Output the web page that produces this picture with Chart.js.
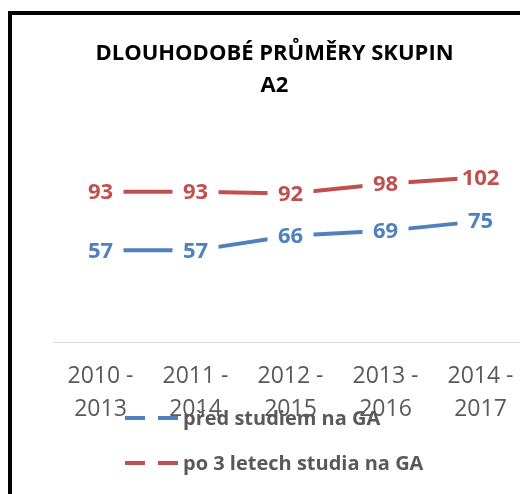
<!DOCTYPE html>
<html>
<head>
<meta charset="utf-8">
<script src="https://cdn.jsdelivr.net/npm/chart.js@4/dist/chart.umd.min.js"></script>
<style>
  html, body { margin: 0; padding: 0; background: #fff; overflow: hidden; width: 520px; height: 494px; }
  #frame {
    position: absolute; left: 8px; top: 11px;
    border-left: 4px solid #000; border-top: 4px solid #000;
    width: 540px; height: 500px;
  }
  #chart { position: absolute; left: 0; top: 0; }
</style>
</head>
<body>
<div id="frame"><canvas id="chart" width="524" height="479"></canvas></div>
<script>
// Data
const categories = [['2010 -', '2013'], ['2011 -', '2014'], ['2012 -', '2015'], ['2013 -', '2016'], ['2014 -', '2017']];
const seriesNames = ['před studiem na GA', 'po 3 letech studia na GA'];
const beforeValues = [57, 57, 66, 69, 75];
const afterValues = [93, 93, 92, 98, 102];

const BLUE = '#4F81BD';
const RED = '#C0504D';
const FONT = "'Open Sans', 'Noto Sans', sans-serif";

// data labels with a white box that cuts the line around each point
const valueLabels = {
    id: 'valueLabels',
    afterDatasetsDraw(chart) {
        const ctx = chart.ctx;
        ctx.save();
        ctx.font = 'bold 22px ' + FONT;
        ctx.textAlign = 'center';
        ctx.textBaseline = 'middle';
        chart.data.datasets.forEach((ds, i) => {
            const meta = chart.getDatasetMeta(i);
            meta.data.forEach((pt, j) => {
                ctx.fillStyle = '#fff';
                ctx.fillRect(pt.x - 23, pt.y - 12, 46, 24);
                ctx.fillStyle = ds.borderColor;
                ctx.fillText(String(ds.data[j]), pt.x, pt.y + 1);
            });
        });
        ctx.restore();
    }
};

// legend drawn over the bottom, like the original
const overlayLegend = {
    id: 'overlayLegend',
    afterDraw(chart) {
        const ctx = chart.ctx;
        ctx.save();
        ctx.font = 'bold 20px ' + FONT;
        ctx.textBaseline = 'middle';
        chart.data.datasets.forEach((ds, i) => {
            const y = 403 + i * 45;
            const x = 113;
            ctx.strokeStyle = ds.borderColor;
            ctx.lineWidth = 4;
            ctx.beginPath();
            ctx.moveTo(x, y); ctx.lineTo(x + 20, y);
            ctx.moveTo(x + 33, y); ctx.lineTo(x + 53, y);
            ctx.stroke();
            ctx.fillStyle = '#595959';
            ctx.fillText(ds.label, x + 58, y + 1);
        });
        ctx.restore();
    }
};

new Chart(document.getElementById('chart'), {
    type: 'line',
    data: {
        labels: categories,
        datasets: [
            { label: seriesNames[0], data: beforeValues, borderColor: BLUE, backgroundColor: BLUE },
            { label: seriesNames[1], data: afterValues, borderColor: RED, backgroundColor: RED }
        ]
    },
    options: {
        responsive: false,
        animation: false,
        layout: { padding: { left: 9, right: 8, top: 0, bottom: 51 } },
        elements: {
            line: { borderWidth: 4, tension: 0 },
            point: { radius: 0, hoverRadius: 0 }
        },
        plugins: {
            legend: { display: false },
            tooltip: { enabled: false },
            title: {
                display: true,
                text: ['DLOUHODOBÉ PRŮMĚRY SKUPIN', 'A2'],
                color: '#000',
                font: { family: FONT, size: 22, weight: 'bold', lineHeight: 1.4545 },
                padding: { top: 23, bottom: 46 }
            }
        },
        scales: {
            x: {
                offset: true,
                grid: { display: false, drawTicks: false },
                border: { display: true, color: '#D9D9D9', width: 1 },
                ticks: {
                    color: '#595959',
                    padding: 17,
                    maxRotation: 0,
                    font: { family: FONT, size: 23, lineHeight: 1.435 }
                }
            },
            y: {
                min: 0,
                max: 120,
                grid: { display: false, drawTicks: false },
                border: { display: false },
                ticks: { display: false },
                afterFit(scale) { scale.width = 32; }
            }
        }
    },
    plugins: [valueLabels, overlayLegend]
});
</script>
</body>
</html>
